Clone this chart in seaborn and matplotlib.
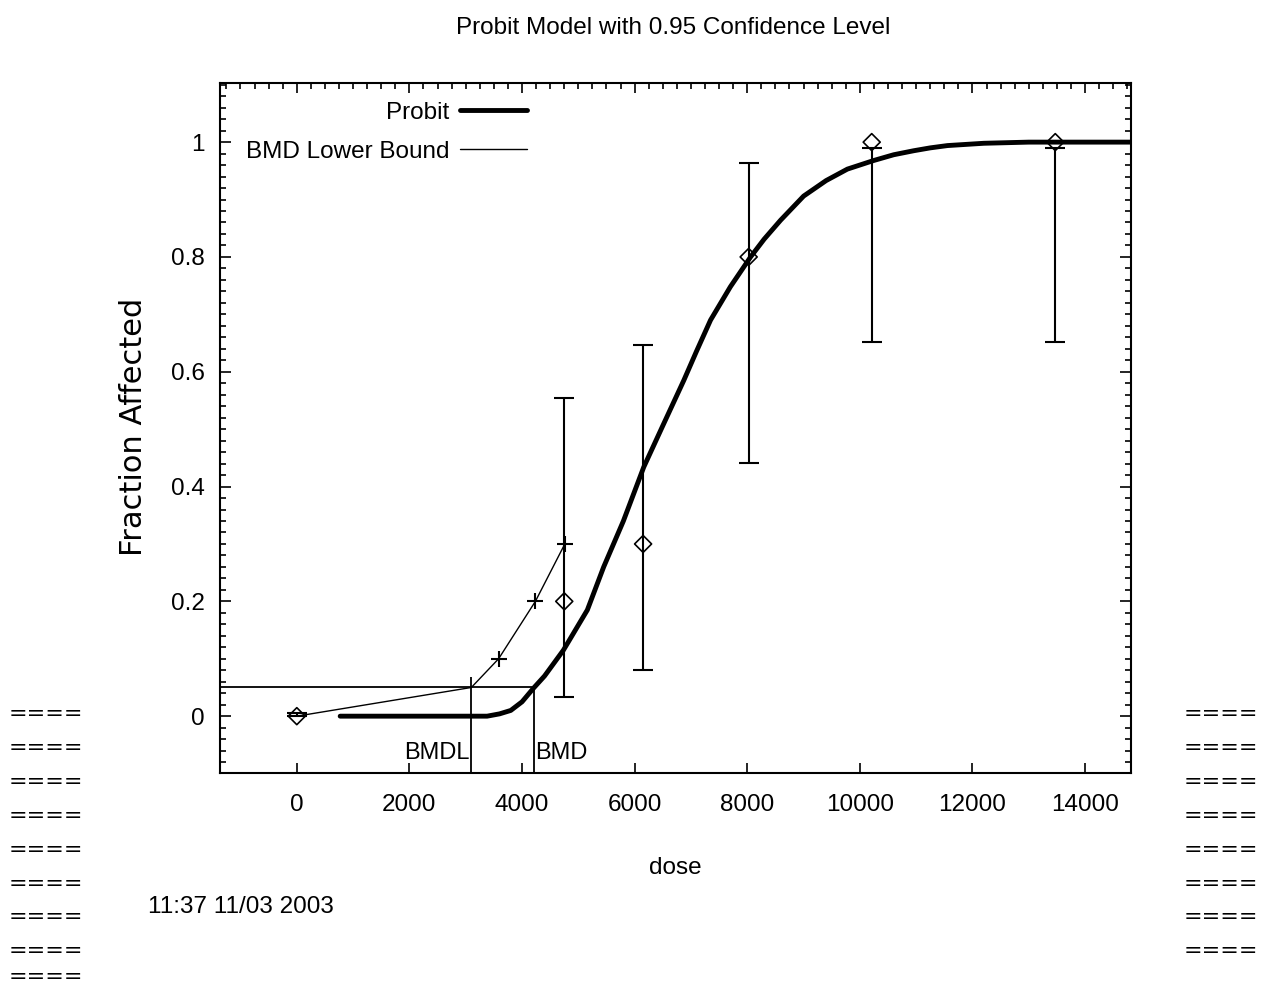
import matplotlib
matplotlib.use("Agg")
import matplotlib.pyplot as plt
import seaborn as sns
import pandas as pd
from matplotlib.ticker import MultipleLocator
from matplotlib.lines import Line2D

# ---------------- data ----------------
obs_dose = [0, 4750, 6150, 8025, 10210, 13470]
obs_frac = [0.0, 0.2, 0.3, 0.8, 1.0, 1.0]
obs_lo = [0.0, 0.034, 0.080, 0.441, 0.652, 0.652]
obs_hi = [0.005, 0.555, 0.647, 0.963, 0.99, 0.99]

probit_dose = [770, 3380, 3600, 3800, 4000, 4206, 4400, 4735, 5160, 5450,
               5800, 6162, 6500, 6873, 7100, 7348, 7700, 8059, 8300, 8592,
               9001, 9400, 9778, 10246, 10600, 10956, 11250, 11556, 12201,
               13000, 14900]
probit_frac = [0.0, 0.0, 0.004, 0.010, 0.025, 0.049, 0.07, 0.115, 0.185,
               0.26, 0.34, 0.434, 0.506, 0.585, 0.636, 0.69, 0.748, 0.80,
               0.831, 0.864, 0.906, 0.933, 0.953, 0.968, 0.978, 0.985,
               0.990, 0.994, 0.998, 1.0, 1.0]

lower_dose = [0, 3100, 3584, 4237, 4760]
lower_frac = [0.0, 0.05, 0.1, 0.2, 0.3]

bmr = 0.05
bmdl_dose = 3100
bmd_dose = 4206

x_ticks = [0, 2000, 4000, 6000, 8000, 10000, 12000, 14000]
y_ticks = [0, 0.2, 0.4, 0.6, 0.8, 1.0]
y_tick_labels = ["0", "0.2", "0.4", "0.6", "0.8", "1"]

title = "Probit Model with 0.95 Confidence Level"
timestamp = "11:37 11/03 2003"

# ---------------- style ----------------
sns.set_theme(style="ticks")
NARROW = ["Liberation Sans Narrow", "Liberation Sans", "DejaVu Sans"]
plt.rcParams["font.family"] = NARROW
plt.rcParams["axes.linewidth"] = 1.5
for k in ["text.color", "axes.labelcolor", "xtick.color", "ytick.color",
          "axes.edgecolor"]:
    plt.rcParams[k] = "black"

FS = 17.5

fig = plt.figure(figsize=(12.62, 9.88), dpi=100)
fig.patch.set_facecolor("white")
ax = fig.add_axes([220 / 1262, 1 - 773 / 988, 911 / 1262, 690 / 988])
ax.set_facecolor("white")

xmin, xmax = -1364, 14815
ax.set_xlim(xmin, xmax)
ax.set_ylim(-0.099, 1.103)

curve_df = pd.DataFrame({"dose": probit_dose, "frac": probit_frac})
lower_df = pd.DataFrame({"dose": lower_dose, "frac": lower_frac})
obs_df = pd.DataFrame({"dose": obs_dose, "frac": obs_frac})

sns.lineplot(data=curve_df, x="dose", y="frac", color="black", linewidth=3.5,
             estimator=None, sort=False, ax=ax, legend=False,
             solid_joinstyle="round")
sns.lineplot(data=lower_df, x="dose", y="frac", color="black", linewidth=1.0,
             estimator=None, sort=False, ax=ax, legend=False)
sns.scatterplot(x=lower_dose[2:], y=lower_frac[2:], marker="+", s=120,
                color="black", linewidth=1.5, ax=ax, zorder=6)

# error bars: vertical stems + caps
ax.vlines(obs_dose, obs_lo, obs_hi, color="black", linewidth=1.5, zorder=4)
sns.scatterplot(x=obs_dose + obs_dose, y=obs_lo + obs_hi, marker="_", s=200,
                color="black", linewidth=1.5, ax=ax, zorder=4)
sns.scatterplot(data=obs_df, x="dose", y="frac", marker="D", s=75,
                facecolor="none", edgecolor="black", linewidth=1.2,
                ax=ax, zorder=5)

# BMD / BMDL guides
ax.hlines(bmr, xmin, bmd_dose, color="black", linewidth=1.3)
ax.vlines(bmdl_dose, -0.099, 0.068, color="black", linewidth=1.3)
ax.vlines(bmd_dose, -0.099, bmr, color="black", linewidth=1.3)
ax.text(bmdl_dose - 30, -0.064, "BMDL", ha="right", va="center", fontsize=17)
ax.text(bmd_dose + 30, -0.064, "BMD", ha="left", va="center", fontsize=17)

# ticks
ax.set_xticks(x_ticks)
ax.set_xticklabels([str(t) for t in x_ticks])
ax.set_yticks(y_ticks)
ax.set_yticklabels(y_tick_labels)
ax.xaxis.set_minor_locator(MultipleLocator(250))
ax.yaxis.set_minor_locator(MultipleLocator(0.02))
ax.tick_params(axis="both", which="both", direction="in", color="black",
               width=1.2)
ax.tick_params(axis="x", which="major", bottom=True, top=True, length=7,
               pad=15, labelsize=FS)
ax.tick_params(axis="x", which="minor", bottom=False, top=True, length=4)
ax.tick_params(axis="y", which="major", left=True, right=True, length=8,
               pad=11, labelsize=FS)
ax.tick_params(axis="y", which="minor", left=True, right=True, length=4)
for s in ax.spines.values():
    s.set_visible(True)
    s.set_color("black")
    s.set_linewidth(1.5)

ax.set_xlabel("dose", fontsize=FS)
ax.xaxis.label.set_va("center")
ax.xaxis.set_label_coords((675 - 220) / 911, (773 - 868) / 690)
ax.set_ylabel("Fraction Affected", fontsize=22, family=["DejaVu Sans"])
ax.yaxis.label.set_va("center")
ax.yaxis.set_label_coords((133 - 220) / 911, (773 - 427) / 690)

# legend (text left of line)
handles = [Line2D([], [], color="black", linewidth=3.5),
           Line2D([], [], color="black", linewidth=1.0)]
ax.legend(handles, ["Probit", "BMD Lower Bound"], loc="upper right",
          bbox_to_anchor=(0.337, 0.973), markerfirst=False, frameon=False,
          fontsize=FS, handlelength=2.75, handletextpad=0.45,
          labelspacing=0.7, borderpad=0, borderaxespad=0)

fig.text(673 / 1262, 1 - 28 / 988, title, ha="center", va="center",
         fontsize=FS)
fig.text(148 / 1262, 1 - 907 / 988, timestamp, ha="left", va="center",
         fontsize=FS)

EQ_FS = 16
eq_off = 8  # px from "=" centre to baseline
left_rows = [712 + 33.9 * i for i in range(8)] + [975]
right_rows = [712 + 33.9 * i for i in range(8)]
for yc in left_rows:
    fig.text(9 / 1262, 1 - (yc + eq_off) / 988, "====", ha="left",
             va="baseline", fontsize=EQ_FS, family=["DejaVu Sans"])
for yc in right_rows:
    fig.text(1258 / 1262, 1 - (yc + eq_off) / 988, "====", ha="right",
             va="baseline", fontsize=EQ_FS, family=["DejaVu Sans"])

fig.savefig("out.png", dpi=100, facecolor="white")
